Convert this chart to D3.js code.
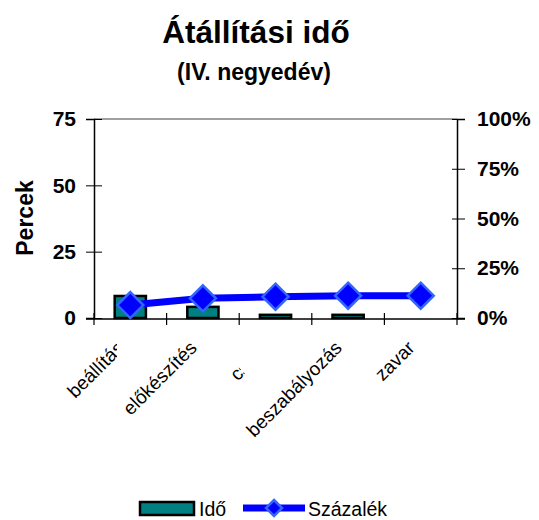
<!DOCTYPE html>
<html>
<head>
<meta charset="utf-8">
<script src="https://cdn.jsdelivr.net/npm/d3@7"></script>
<style>
  html, body { margin: 0; padding: 0; background: #fff; }
  svg { display: block; font-family: Arial, "Liberation Sans", sans-serif; }
</style>
</head>
<body>
<svg id="chart" width="539" height="520"></svg>
<script>
// ---- data ----
const categories = ["beállítás", "előkészítés", "csere", "beszabályozás", "zavar"];
const idoValues = [8.3, 4.2, 1.2, 1.2, 0];          // Percek (left axis)
const szazalekValues = [0.065, 0.099, 0.107, 0.112, 0.112]; // Százalék (right axis)
const leftTicks = [0, 25, 50, 75];
const rightTicks = [0, 0.25, 0.5, 0.75, 1];
const titleText = "Átállítási idő";
const subtitleText = "(IV. negyedév)";
const yTitle = "Percek";
const seriesNames = ["Idő", "Százalék"];

// ---- layout ----
const svg = d3.select("#chart");
const L = 94, R = 457, T = 119, B = 318;

const x = d3.scaleBand().domain(categories).range([L, R]).padding(0);
const yL = d3.scaleLinear().domain([0, 75]).range([B, T]);
const yR = d3.scaleLinear().domain([0, 1]).range([B, T]);

const teal = "#008080", blue = "#0000FF", blueEdge = "#3366FF";

// titles
svg.append("text").attr("x", 256).attr("y", 43).attr("text-anchor", "middle")
  .attr("font-size", 31.5).attr("font-weight", "bold").text(titleText);
svg.append("text").attr("x", 254).attr("y", 80).attr("text-anchor", "middle")
  .attr("font-size", 23).attr("font-weight", "bold").text(subtitleText);

// top border of plot area
svg.append("line").attr("x1", L).attr("x2", R).attr("y1", T).attr("y2", T)
  .attr("stroke", "#808080").attr("stroke-width", 1.5);

// bars
const barW = x.bandwidth() * 0.43;
svg.append("g").selectAll("rect").data(categories).join("rect")
  .attr("x", (d) => x(d) + x.bandwidth() / 2 - barW / 2)
  .attr("y", (d, i) => yL(idoValues[i]))
  .attr("width", barW)
  .attr("height", (d, i) => Math.max(0, yL(0) - yL(idoValues[i])))
  .attr("fill", teal).attr("stroke", "#000").attr("stroke-width", 2.5);

// left axis
const gL = svg.append("g").attr("transform", `translate(${L},0)`)
  .call(d3.axisLeft(yL).tickValues(leftTicks).tickSize(8).tickPadding(10));
gL.select(".domain").attr("stroke", "#000").attr("stroke-width", 1.5);
gL.selectAll(".tick line").attr("stroke", "#000").attr("x2", -8).attr("x1", 8);
gL.selectAll(".tick text").attr("font-size", 21).attr("font-weight", "bold")
  .attr("font-family", "Arial, 'Liberation Sans', sans-serif").attr("fill", "#000").attr("x", -18);

// right axis
const gR = svg.append("g").attr("transform", `translate(${R},0)`)
  .call(d3.axisRight(yR).tickValues(rightTicks).tickFormat(d3.format(".0%")).tickSize(8).tickPadding(10));
gR.select(".domain").attr("stroke", "#000").attr("stroke-width", 1.5);
gR.selectAll(".tick line").attr("stroke", "#000").attr("x1", -5).attr("x2", 8);
gR.selectAll(".tick text").attr("font-size", 21).attr("font-weight", "bold")
  .attr("font-family", "Arial, 'Liberation Sans', sans-serif").attr("fill", "#000").attr("x", 20);

// bottom axis
const gB = svg.append("g").attr("transform", `translate(0,${B + 1})`);
gB.append("line").attr("x1", L - 8).attr("x2", R + 8).attr("y1", 0).attr("y2", 0)
  .attr("stroke", "#000").attr("stroke-width", 1.5);
const boundaries = categories.map((d) => x(d)).concat([x(categories[categories.length - 1]) + x.bandwidth()]);
gB.selectAll("line.tk").data(boundaries).join("line").attr("class", "tk")
  .attr("x1", (d) => d).attr("x2", (d) => d).attr("y1", -6).attr("y2", 6)
  .attr("stroke", "#000").attr("stroke-width", 1.2);

// category labels
const defs = svg.append("defs");
defs.append("clipPath").attr("id", "clipFirst").append("rect")
  .attr("x", 0).attr("y", 300).attr("width", 117).attr("height", 200);
const labG = svg.append("g");
categories.forEach((c, i) => {
  const cx = x(c) + x.bandwidth() / 2 - 5;
  const outer = labG.append("g");
  if (i === 0) outer.attr("clip-path", "url(#clipFirst)");
  const g = outer.append("g").attr("transform", `translate(${cx},349) rotate(-45)`);
  const t = g.append("text").attr("text-anchor", "end").attr("font-size", 19).text(c);
  if (i === 2) {
    // label mostly hidden in the original
    const len = t.node().getComputedTextLength();
    const id = "clipLab" + i;
    g.append("clipPath").attr("id", id).append("rect")
      .attr("x", -len - 3).attr("y", -20).attr("width", 14).attr("height", 30);
    t.attr("clip-path", `url(#${id})`);
  }
});

// y title
svg.append("text").attr("transform", "translate(33,218) rotate(-90)")
  .attr("text-anchor", "middle").attr("font-size", 23).attr("font-weight", "bold").text(yTitle);

// line series
const lineGen = d3.line().x((d, i) => x(categories[i]) + x.bandwidth() / 2).y((d) => yR(d));
svg.append("path").datum(szazalekValues).attr("d", lineGen)
  .attr("fill", "none").attr("stroke", blue).attr("stroke-width", 7).attr("stroke-linejoin", "round");
const dia = 13;
svg.append("g").selectAll("path").data(szazalekValues).join("path")
  .attr("transform", (d, i) => `translate(${x(categories[i]) + x.bandwidth() / 2},${yR(d)})`)
  .attr("d", `M0,${-dia}L${dia},0L0,${dia}L${-dia},0Z`)
  .attr("fill", blue).attr("stroke", blueEdge).attr("stroke-width", 2.5);

// legend
const lg = svg.append("g");
lg.append("rect").attr("x", 140).attr("y", 502).attr("width", 54).attr("height", 13)
  .attr("fill", teal).attr("stroke", "#000").attr("stroke-width", 2.5);
lg.append("text").attr("x", 199).attr("y", 516).attr("font-size", 19.5).text(seriesNames[0]);
lg.append("line").attr("x1", 243).attr("x2", 305).attr("y1", 508).attr("y2", 508)
  .attr("stroke", blue).attr("stroke-width", 7);
lg.append("path").attr("transform", "translate(274,508)")
  .attr("d", "M0,-8L8,0L0,8L-8,0Z").attr("fill", blue).attr("stroke", blueEdge).attr("stroke-width", 2.5);
lg.append("text").attr("x", 308).attr("y", 516).attr("font-size", 19.5).text(seriesNames[1]);
</script>
</body>
</html>
